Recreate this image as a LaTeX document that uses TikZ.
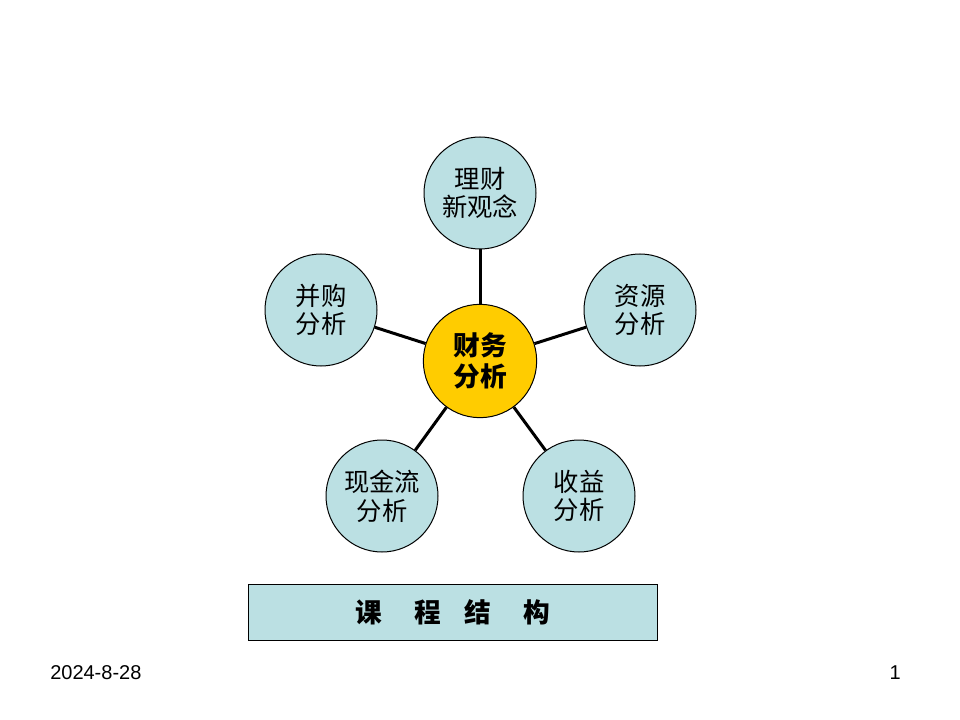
\documentclass[tikz,border=0pt]{standalone}
\usepackage{fontspec}
\setmainfont{Liberation Sans}
\newfontfamily\cjk{Noto Sans CJK SC}
\definecolor{tealfill}{HTML}{BBE0E3}
\definecolor{goldfill}{HTML}{FFCC00}
\begin{document}
\begin{tikzpicture}[x=0.75pt,y=-0.75pt,
  sat/.style={circle,draw=black,line width=0.75pt,fill=tealfill,minimum size=84pt,inner sep=0pt,align=center,font=\cjk\fontsize{19}{21.5}\selectfont},
  hub/.style={circle,draw=black,line width=0.75pt,fill=goldfill,minimum size=85pt,inner sep=0pt,align=center,font=\cjk\bfseries\fontsize{20}{23}\selectfont},
  spoke/.style={line width=2.25pt,black},
  titlebox/.style={draw=black,line width=0.75pt,fill=tealfill,minimum width=306.75pt,minimum height=42pt,inner sep=0pt,font=\cjk\bfseries\fontsize{20}{24}\selectfont},
  foot/.style={font=\fontsize{15}{18}\selectfont,inner sep=0pt}]
\useasboundingbox (0,0) rectangle (960,720);
\fill[white] (0,0) rectangle (960,720);
\node[hub] (c) at (480,361) {财务\\分析};
\node[sat] (t) at (480,193) {理财\\新观念};
\node[sat] (l) at (321,310) {并购\\分析};
\node[sat] (r) at (640,310) {资源\\分析};
\node[sat] (bl) at (382,496) {现金流\\分析};
\node[sat] (br) at (579,496) {收益\\分析};
\draw[spoke] (c) -- (t);
\draw[spoke] (c) -- (l);
\draw[spoke] (c) -- (r);
\draw[spoke] (c) -- (bl);
\draw[spoke] (c) -- (br);
\node[titlebox] (title) at (452.5,612) {课\hspace{24.75pt}程\hspace{17.25pt}结\hspace{24pt}构};
\node[foot,anchor=west] (date) at (50,673) {2024-8-28};
\node[foot,anchor=east] (page) at (901,673) {1};
\end{tikzpicture}
\end{document}
